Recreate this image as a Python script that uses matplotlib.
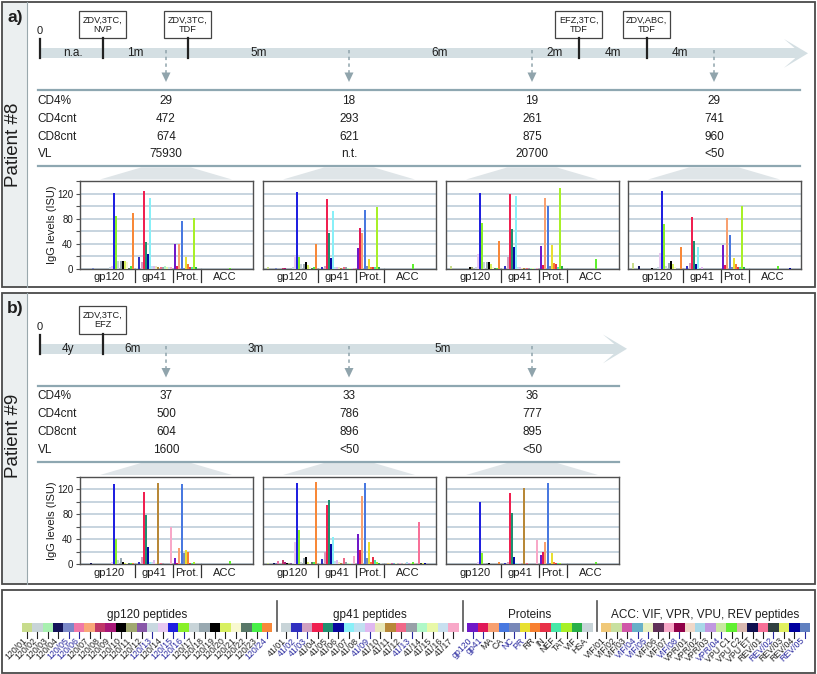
import matplotlib
matplotlib.use("Agg")
import matplotlib.pyplot as plt
from matplotlib.patches import Rectangle, Polygon

plt.rcParams['font.family'] = ['Liberation Sans', 'DejaVu Sans']

# ---------------- data ----------------
gp120_labels = ["120/01", "120/02", "120/03", "120/04", "120/05", "120/06", "120/07", "120/08",
                "120/09", "120/10", "120/11", "120/12", "120/13", "120/14", "120/15", "120/16",
                "120/17", "120/18", "120/19", "120/20", "120/21", "120/22", "120/23", "120/24"]
gp41_labels = ["41/01", "41/02", "41/03", "41/04", "41/05", "41/06", "41/07", "41/08", "41/09",
               "41/10", "41/11", "41/12", "41/13", "41/14", "41/15", "41/16", "41/17"]
protein_labels = ["gp120", "gp41", "MA", "CA", "NC", "PR", "RR", "IN", "NEF", "TAT", "VIF", "HSA"]
acc_labels = ["VIF/01", "VIF/02", "VIF/03", "VIF/04", "VIF/05", "VIF/06", "VIF/07", "VIF/08",
              "VPR/01", "VPR/02", "VPR/03", "VPR/04", "VPU C1", "VPU C2", "VPU ET",
              "REV/01", "REV/02", "REV/03", "REV/04", "REV/05"]

gp120_colors = ["#c8dc8c", "#c8d4d8", "#a8f0b0", "#14145a", "#7a88c8", "#f078a8", "#f8a878", "#c03868",
                "#a81878", "#000000", "#a0a870", "#8858a8", "#c8d8e0", "#e8c8f0", "#2020e0", "#88f028",
                "#c8d4d8", "#98a8b0", "#000000", "#d8f060", "#f8f8d0", "#587868", "#48f048", "#f88838"]
gp41_colors = ["#c8d4d8", "#3030c0", "#d0a0c0", "#f02050", "#209070", "#0808a0", "#88f0f8", "#c0e0f0",
               "#e0b8f0", "#e8e8b8", "#b88838", "#f06888", "#98a0a8", "#b0f8c8", "#e8f8a8", "#c8e0f0",
               "#f8a8c8"]
protein_colors = ["#7018c8", "#e01858", "#f8a070", "#4878e0", "#7888b8", "#e8e030", "#f88030", "#e83048",
                  "#48e8a8", "#a8f028", "#28b048", "#c8d4d8"]
acc_colors = ["#f0c878", "#c8e0a0", "#d058a8", "#68b0c8", "#e8f0c0", "#603058", "#f8a8c8", "#900048",
              "#f0d8c8", "#a8d8e8", "#c098e0", "#c8e8a0", "#60f030", "#d8b8b0", "#101050", "#f87098",
              "#304040", "#e0f060", "#0000a0", "#6080c0"]

group_names = ["gp120", "gp41", "Prot.", "ACC"]
legend_titles = ["gp120 peptides", "gp41 peptides", "Proteins", "ACC: VIF, VPR, VPU, REV peptides"]

# IgG levels (ISU): gp120 peptides | gp41 peptides | proteins | ACC peptides
p8_s1 = [0, 0, 0, 0, 0.5, 0, 0, 0, 0, 0, 0, 0, 2, 4, 122, 84, 12, 12, 13, 12, 10, 1, 4, 89,
         1, 18, 10, 124, 42, 23, 113, 5, 5, 4, 2, 2, 3, 4, 3, 2, 3,
         40, 4, 39, 76, 1, 19, 8, 2, 2, 81, 2, 0,
         0, 0, 0, 0, 0, 0, 0, 0, 0, 0, 0, 0, 1.5, 0, 0, 0, 0, 0, 0, 0]
p8_s2 = [3, 0, 0, 0, 1, 0, 0, 1, 1, 0, 0, 0, 2, 20, 123, 19, 8, 8, 11, 6, 2, 1, 2, 40,
         1, 2, 5, 112, 57, 17, 93, 2, 3, 2, 1, 2, 3, 1, 1, 1, 1,
         33, 66, 57, 94, 5, 15, 2, 2, 2, 99, 2, 0,
         0, 0, 0, 0, 0, 0, 0, 0, 0, 0, 0, 0, 8, 0, 0, 0, 0, 0, 0, 0]
p8_s3 = [4, 0, 0, 0, 0, 0, 0, 0, 0, 2, 2, 0, 2, 23, 121, 73, 10, 10, 11, 7, 2, 1, 1, 45,
         1, 5, 18, 120, 64, 34, 117, 2, 2, 1, 1, 1, 1, 1, 1, 1, 1,
         36, 6, 114, 101, 4, 38, 9, 7, 3, 129, 4, 0,
         0, 0, 0, 0, 0, 0, 0, 0, 0, 0, 0, 0, 15, 0, 0, 0, 0, 0, 0, 0]
p8_s4 = [9, 0, 0, 5, 0, 0, 0, 0, 0, 1, 0, 0, 2, 25, 125, 72, 5, 9, 12, 7, 2, 0, 0, 34,
         0, 5, 9, 83, 45, 7, 34, 0, 2, 0, 0, 0, 0, 0, 0, 0, 0,
         38, 6, 81, 54, 3, 17, 8, 3, 3, 101, 2, 0,
         0, 0, 0, 0, 0, 0, 0, 0, 0, 0, 0, 0, 4, 0, 0, 0, 0, 0, 1, 0]
p9_s1 = [0, 0, 0, 1, 0, 0, 0, 0, 0, 0, 0, 0, 0, 4, 128, 40, 6, 10, 4, 2, 1, 1, 1, 1,
         0, 3, 12, 116, 79, 28, 4, 4, 7, 2, 131, 1, 1, 0, 0, 0, 60,
         10, 2, 25, 128, 17, 22, 19, 2, 2, 3, 0, 0,
         0, 0, 0, 0, 0, 0, 0, 0, 0, 0, 0, 0, 5, 0, 0, 0, 0, 0, 0, 0]
p9_s2 = [1, 0, 0, 1, 2, 5, 0, 6, 4, 2, 1, 1, 2, 36, 131, 54, 3, 10, 11, 4, 2, 3, 3, 132,
         1, 8, 20, 95, 103, 32, 44, 5, 6, 3, 2, 9, 3, 2, 2, 2, 13,
         48, 22, 109, 131, 10, 36, 4, 11, 7, 4, 2, 1,
         2, 1, 1, 1, 1, 0, 1, 0, 1, 3, 1, 1, 4, 1, 0, 68, 1, 1, 1, 0]
p9_s3 = [0, 0, 0, 0, 0, 0, 0, 0, 0, 0, 0, 0, 0, 3, 100, 18, 0, 2, 1, 0, 0, 0, 0, 3,
         0, 2, 4, 115, 82, 12, 2, 1, 1, 0, 122, 1, 0, 0, 0, 0, 38,
         14, 20, 36, 131, 2, 17, 3, 2, 2, 1, 0, 0,
         0, 0, 0, 0, 0, 0, 0, 0, 0, 0, 0, 0, 4, 0, 0, 0, 0, 0, 0, 0]

table_rows = ["CD4%", "CD4cnt", "CD8cnt", "VL"]
p8_table = [["29", "472", "674", "75930"], ["18", "293", "621", "n.t."],
            ["19", "261", "875", "20700"], ["29", "741", "960", "<50"]]
p9_table = [["37", "500", "604", "1600"], ["33", "786", "896", "<50"], ["36", "777", "895", "<50"]]

p8_treatments = ["ZDV,3TC,\nNVP", "ZDV,3TC,\nTDF", "EFZ,3TC,\nTDF", "ZDV,ABC,\nTDF"]
p8_intervals = ["n.a.", "1m", "5m", "6m", "2m", "4m", "4m"]
p9_treatments = ["ZDV,3TC,\nEFZ"]
p9_intervals = ["4y", "6m", "3m", "5m"]

# ---------------- layout ----------------
W, H = 817, 674
fig = plt.figure(figsize=(W / 100, H / 100), dpi=100)
bg = fig.add_axes([0, 0, 1, 1], zorder=0)
bg.set_xlim(0, W)
bg.set_ylim(H, 0)
bg.axis('off')

TXT = '#1e1e1e'
BAND = '#d4dfe3'
LINEC = '#8ea7b1'
ARROWC = '#90a4ac'
FAN = '#dfe5e8'

all_colors = gp120_colors + gp41_colors + protein_colors + acc_colors
groups_n = [len(gp120_labels), len(gp41_labels), len(protein_labels), len(acc_labels)]
group_gap = [0, 1, 2, 4]
xpos = []
idx = 0
group_ranges = []
for n, g in zip(groups_n, group_gap):
    xs = [idx + i + g for i in range(n)]
    group_ranges.append((xs[0], xs[-1]))
    xpos += xs
    idx += n
seps = [(group_ranges[i][1] + group_ranges[i + 1][0]) / 2 for i in range(3)]


def panel_frame(top, bottom, label, patient):
    bg.add_patch(Rectangle((2, top), 25, bottom - top, fc='#ebeff0', ec='none', zorder=0))
    bg.add_patch(Rectangle((2, top), 813, bottom - top, fc='none', ec='#4a4a4a', lw=1.3, zorder=5))
    bg.plot([27, 27], [top, bottom], color='#9aa8ad', lw=0.8, zorder=5)
    bg.text(15.5, top + 16, label, fontsize=12.5, fontweight='bold', ha='center', va='center', color=TXT)
    bg.text(14, top + 143, patient, fontsize=13.5, rotation=90, ha='center', va='center', color=TXT)


def timeline(dy, band_end, treat_x, treat_lab, int_x, int_lab, samp_x, table, line_end):
    bg.add_patch(Rectangle((40, 48.3 + dy), band_end - 40, 10, fc=BAND, ec='none', zorder=1))
    tip = band_end + 13
    bg.add_patch(Polygon([(band_end - 11, 39 + dy), (tip, 53.3 + dy), (band_end - 11, 67.8 + dy),
                          (band_end, 58.3 + dy), (band_end, 48.3 + dy)], closed=True,
                         fc=BAND, ec='none', zorder=1))
    bg.text(39.5, 31.5 + dy, "0", fontsize=8, ha='center', va='center', color=TXT)
    bg.plot([40, 40], [39 + dy, 58.3 + dy], color='#222222', lw=1.6, zorder=3)
    for x, t in zip(treat_x, treat_lab):
        bg.add_patch(Rectangle((x - 23.5, 10.7 + dy), 47, 27.6, fc='white', ec='#444444', lw=0.9, zorder=3))
        bg.text(x, 24.5 + dy, t, fontsize=6.6, ha='center', va='center', linespacing=1.05, color=TXT, zorder=4)
        bg.plot([x, x], [38.3 + dy, 58.3 + dy], color='#222222', lw=1.6, zorder=3)
    for x, t in zip(int_x, int_lab):
        bg.text(x, 53.5 + dy, t, fontsize=8.5, ha='center', va='center', color=TXT, zorder=4)
    for x in samp_x:
        bg.plot([x, x], [50 + dy, 73 + dy], color=ARROWC, lw=1.1, ls=(0, (2.2, 2.2)), zorder=3)
        bg.add_patch(Polygon([(x - 4.5, 72.5 + dy), (x + 4.5, 72.5 + dy), (x, 82 + dy)], closed=True,
                             fc=ARROWC, ec='none', zorder=3))
    bg.plot([38, line_end], [90 + dy, 90 + dy], color=LINEC, lw=1.6)
    bg.plot([38, line_end], [166 + dy, 166 + dy], color=LINEC, lw=1.6)
    row_y = [100.5, 118.5, 136.5, 154.3]
    for r, y in zip(table_rows, row_y):
        bg.text(37.5, y + dy, r, fontsize=8.5, ha='left', va='center', color=TXT)
    for x, vals in zip(samp_x, table):
        for v, y in zip(vals, row_y):
            bg.text(x, y + dy, v, fontsize=8.5, ha='center', va='center', color=TXT)
        bg.add_patch(Polygon([(x - 66, 179.5 + dy), (x - 25, 167.5 + dy), (x + 25, 167.5 + dy),
                              (x + 66, 179.5 + dy)], closed=True, fc=FAN, ec='none', zorder=1))


def chart(l, t, w, h, values, show_y):
    ax = fig.add_axes([l / W, 1 - (t + h) / H, w / W, h / H], zorder=2)
    ax.bar(xpos, values, width=0.95, color=all_colors, linewidth=0, zorder=3, antialiased=False)
    ax.set_xlim(-2.3, 80)
    ax.set_ylim(0, 140.5)
    ax.set_yticks([0, 40, 80, 120])
    ax.set_yticks([20, 60, 100, 140], minor=True)
    ax.grid(axis='y', which='both', color='#c3d1dc', lw=1.3, zorder=0)
    ax.set_axisbelow(True)
    ax.set_xticks([])
    for sp in ax.spines.values():
        sp.set_color('#505050')
        sp.set_linewidth(1.0)
    if show_y:
        ax.tick_params(axis='y', which='both', length=3, width=0.8, color='#505050',
                       labelsize=7, pad=2, labelcolor=TXT)
        ax.set_ylabel("IgG levels (ISU)", fontsize=8, color=TXT)
        ax.yaxis.set_label_coords(-23 / w, 0.5)
    else:
        ax.tick_params(axis='y', which='both', left=False, labelleft=False)
    tr = ax.get_xaxis_transform()
    for s in seps:
        ax.plot([s, s], [0, -13 / h], color='#333333', lw=0.9, transform=tr, clip_on=False)
    for name, (a, b) in zip(group_names, group_ranges):
        ax.text((a + b) / 2, -8.5 / h, name, transform=tr, fontsize=8, ha='center', va='center',
                color=TXT)
    return ax


# ---------------- panel a ----------------
panel_frame(1.5, 287, "a)", "Patient #8")
timeline(0, 795, [102.7, 187.7, 579, 646.7], p8_treatments,
         [73.3, 135, 258.3, 440, 555, 612.7, 680], p8_intervals,
         [166, 349, 532, 714], p8_table, 800)
for i, (lx, vals) in enumerate(zip([80, 263, 446, 628], [p8_s1, p8_s2, p8_s3, p8_s4])):
    chart(lx, 181, 173, 87.7, vals, i == 0)

# ---------------- panel b ----------------
DY = 295.5
panel_frame(293, 584, "b)", "Patient #9")
timeline(DY, 614, [103], p9_treatments, [68, 133, 256, 443], p9_intervals,
         [166, 349, 532], p9_table, 619)
for i, (lx, vals) in enumerate(zip([80, 263, 446], [p9_s1, p9_s2, p9_s3])):
    chart(lx, 476.7, 173, 87.3, vals, i == 0)

# ---------------- legend ----------------
bg.add_patch(Rectangle((2, 590), 813, 82.5, fc='none', ec='#4a4a4a', lw=1.3, zorder=5))
leg_groups = [(gp120_labels, gp120_colors, 21.7, 146.7),
              (gp41_labels, gp41_colors, 281, 370),
              (protein_labels, protein_colors, 467.3, 530),
              (acc_labels, acc_colors, 601, 705)]
blue_labels = {"120/05", "120/06", "120/13", "120/15", "120/16", "120/24", "41/02", "41/03", "41/09",
               "41/13", "gp120", "gp41", "NC", "PR", "VIF/04", "VIF/05", "VIF/08", "VPR/04",
               "REV/02", "REV/05"}
SW = 10.45
for (labs, cols, x0, tx), title in zip(leg_groups, legend_titles):
    bg.text(tx, 615, title, fontsize=8.5, ha='center', va='center', color=TXT)
    for i, (lab, c) in enumerate(zip(labs, cols)):
        x = x0 + i * SW
        bg.add_patch(Rectangle((x, 623.3), SW, 9, fc=c, ec='none', zorder=2))
        cx = x + SW / 2
        col = '#2a2aa0' if lab in blue_labels else '#222222'
        bg.plot([cx, cx], [632.3, 637.5], color=col, lw=0.8)
        bg.text(cx + 1.5, 636, lab, fontsize=6.3, rotation=45, ha='right', va='top', color=col)
for x in [276.7, 463.3, 596.7]:
    bg.plot([x, x], [601, 631], color='#555555', lw=1.2)

fig.savefig("out.png", dpi=100)
